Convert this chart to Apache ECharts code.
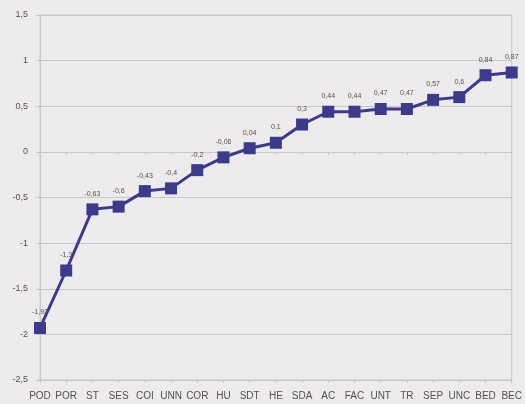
<!DOCTYPE html>
<html>
<head>
<meta charset="utf-8">
<script src="https://cdn.jsdelivr.net/npm/echarts@6/dist/echarts.min.js"></script>
<style>
  html, body { margin: 0; padding: 0; background: #eeebee; }
  #chart { width: 525px; height: 404px; }
</style>
</head>
<body>
<div id="chart"></div>
<script>
// Category codes along the horizontal axis
const categories = ['POD', 'POR', 'ST', 'SES', 'COI', 'UNN', 'COR', 'HU', 'SDT', 'HE',
                    'SDA', 'AC', 'FAC', 'UNT', 'TR', 'SEP', 'UNC', 'BED', 'BEC'];
// Score per category
const scores = [-1.93, -1.3, -0.63, -0.6, -0.43, -0.4, -0.2, -0.06, 0.04, 0.1,
                0.3, 0.44, 0.44, 0.47, 0.47, 0.57, 0.6, 0.84, 0.87];
// Value axis range and step
const yMin = -2.5, yMax = 1.5, yStep = 0.5;

const comma = v => String(v).replace('.', ',');
const gridColor = '#c9c6ca';
const textColor = '#544e52';

const chart = echarts.init(document.getElementById('chart'), null, { renderer: 'canvas' });
chart.setOption({
  backgroundColor: '#eeebee',
  animation: false,
  grid: { left: 40, right: 8, top: 15, bottom: 24, show: true, borderColor: gridColor, borderWidth: 1, backgroundColor: 'transparent' },
  xAxis: [
    {
      type: 'category',
      data: categories,
      boundaryGap: false,
      position: 'bottom',
      axisLine: { onZero: false, lineStyle: { color: gridColor } },
      axisTick: { show: true, length: 3, alignWithLabel: true, interval: 0, lineStyle: { color: gridColor } },
      axisLabel: { interval: 0, color: textColor, fontSize: 10, fontFamily: 'Liberation Sans Narrow, Liberation Sans', margin: 11 }
    },
    {
      type: 'category',
      data: categories,
      boundaryGap: false,
      position: 'bottom',
      axisLine: { onZero: true, lineStyle: { color: gridColor } },
      axisTick: { show: true, length: 3, interval: 0, lineStyle: { color: gridColor } },
      axisLabel: { show: false }
    }
  ],
  yAxis: {
    type: 'value',
    min: yMin,
    max: yMax,
    interval: yStep,
    axisLine: { show: true, lineStyle: { color: gridColor } },
    axisTick: { show: true, length: 4, lineStyle: { color: gridColor } },
    splitLine: { lineStyle: { color: gridColor, width: 1 } },
    axisLabel: { color: textColor, fontSize: 9, fontFamily: 'Liberation Sans', margin: 12, formatter: comma }
  },
  series: [{
    type: 'line',
    data: scores,
    xAxisIndex: 0,
    symbol: 'rect',
    symbolSize: 12,
    lineStyle: { color: '#3b3b8a', width: 3 },
    itemStyle: { color: '#3b3b8a' },
    label: {
      show: true,
      position: 'top',
      distance: 6,
      color: textColor,
      fontSize: 7,
      fontFamily: 'Liberation Sans',
      formatter: p => comma(p.value)
    }
  }]
});
</script>
</body>
</html>
